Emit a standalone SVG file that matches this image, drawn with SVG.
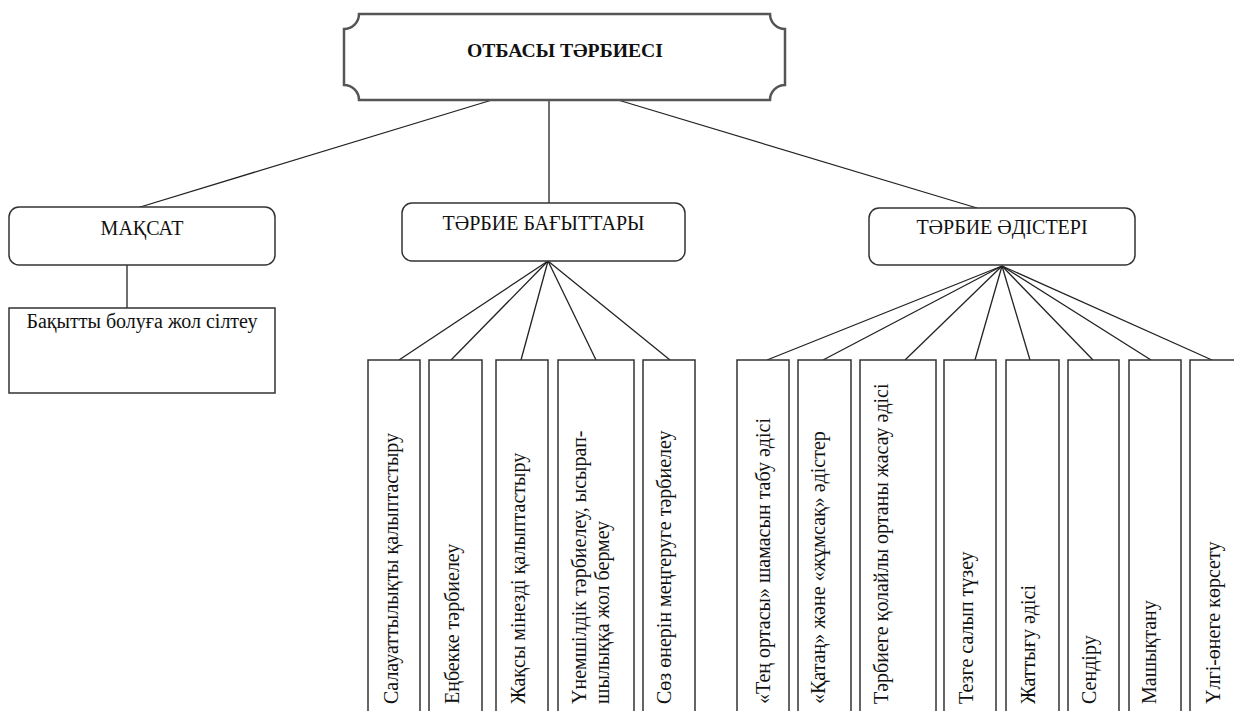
<svg xmlns="http://www.w3.org/2000/svg" width="1234" height="711" viewBox="0 0 1234 711" font-family="'Liberation Serif', serif">
<style>
  text{font-family:'Liberation Serif',serif;font-size:20px;fill:#111}
  .b{font-weight:bold;font-size:19.7px}
  .box{fill:#fff;stroke:#333;stroke-width:1.5}
  .conn{stroke:#222;stroke-width:1.3;fill:none}
</style>
<rect width="1234" height="711" fill="#fff"/>
<g id="connectors">
  <line class="conn" x1="492" y1="100" x2="137" y2="208"/>
  <line class="conn" x1="549" y1="100" x2="549" y2="203"/>
  <line class="conn" x1="618" y1="100" x2="977" y2="208"/>
  <line class="conn" x1="127" y1="265" x2="127" y2="308"/>
  <line class="conn" x1="548" y1="261" x2="399" y2="360"/>
  <line class="conn" x1="548" y1="261" x2="451" y2="360"/>
  <line class="conn" x1="548" y1="261" x2="521" y2="360"/>
  <line class="conn" x1="548" y1="261" x2="596" y2="360"/>
  <line class="conn" x1="548" y1="261" x2="670" y2="360"/>
  <line class="conn" x1="1002" y1="266" x2="767" y2="360"/>
  <line class="conn" x1="1002" y1="266" x2="823" y2="360"/>
  <line class="conn" x1="1002" y1="266" x2="905" y2="360"/>
  <line class="conn" x1="1002" y1="266" x2="975" y2="360"/>
  <line class="conn" x1="1002" y1="266" x2="1030" y2="360"/>
  <line class="conn" x1="1002" y1="266" x2="1093" y2="360"/>
  <line class="conn" x1="1002" y1="266" x2="1151" y2="360"/>
  <line class="conn" x1="1002" y1="266" x2="1212" y2="360"/>
</g>
<g id="root">
  <path d="M359,14 H770 A15,15 0 0 0 785,29 V85 A15,15 0 0 0 770,100 H359 A15,15 0 0 0 344,85 V29 A15,15 0 0 0 359,14 Z" fill="#fff" stroke="#555" stroke-width="2.5"/>
  <text class="b" x="565" y="57" text-anchor="middle">ОТБАСЫ ТӘРБИЕСІ</text>
</g>
<g id="maksat">
  <rect class="box" x="9" y="207" width="266" height="58" rx="10"/>
  <text x="142" y="235" text-anchor="middle">МАҚСАТ</text>
</g>
<g id="maksat-1">
  <rect class="box" x="9" y="308" width="266" height="85"/>
  <text x="142" y="328" text-anchor="middle">Бақытты болуға жол сілтеу</text>
</g>
<g id="bagyttar">
  <rect class="box" x="402" y="203" width="283" height="58" rx="10"/>
  <text x="543.5" y="230" text-anchor="middle">ТӘРБИЕ БАҒЫТТАРЫ</text>
</g>
<g id="b1">
  <rect class="box" x="368" y="360" width="52" height="360"/>
  <text transform="translate(398.2,704) rotate(-90)">Салауаттылықты қалыптастыру</text>
</g>
<g id="b2">
  <rect class="box" x="429" y="360" width="53" height="360"/>
  <text transform="translate(459.2,704) rotate(-90)">Еңбекке тәрбиелеу</text>
</g>
<g id="b3">
  <rect class="box" x="496" y="360" width="52" height="360"/>
  <text transform="translate(525.2,704) rotate(-90)">Жақсы мінезді қалыптастыру</text>
</g>
<g id="b4">
  <rect class="box" x="558" y="360" width="76" height="360"/>
  <text transform="translate(586.2,704) rotate(-90)">Үнемшілдік тәрбиелеу, ысырап-</text>
  <text transform="translate(609.2,704) rotate(-90)">шылыққа жол бермеу</text>
</g>
<g id="b5">
  <rect class="box" x="643" y="360" width="52" height="360"/>
  <text transform="translate(671.2,704) rotate(-90)">Сөз өнерін меңгеруге тәрбиелеу</text>
</g>
<g id="adister">
  <rect class="box" x="869" y="208" width="266" height="57" rx="10"/>
  <text x="1002" y="234" text-anchor="middle">ТӘРБИЕ ӘДІСТЕРІ</text>
</g>
<g id="m1">
  <rect class="box" x="737" y="360" width="52" height="360"/>
  <text transform="translate(770.2,704) rotate(-90)">«Тең ортасы» шамасын табу әдісі</text>
</g>
<g id="m2">
  <rect class="box" x="798" y="360" width="53" height="360"/>
  <text transform="translate(825.2,704) rotate(-90)">«Қатаң» және «жұмсақ» әдістер</text>
</g>
<g id="m3">
  <rect class="box" x="860" y="360" width="76" height="360"/>
  <text transform="translate(888.2,704) rotate(-90)">Тәрбиеге қолайлы ортаны жасау әдісі</text>
</g>
<g id="m4">
  <rect class="box" x="944" y="360" width="52" height="360"/>
  <text transform="translate(973.2,704) rotate(-90)">Тезге салып түзеу</text>
</g>
<g id="m5">
  <rect class="box" x="1006" y="360" width="53" height="360"/>
  <text transform="translate(1035.2,704) rotate(-90)">Жаттығу әдісі</text>
</g>
<g id="m6">
  <rect class="box" x="1068" y="360" width="51" height="360"/>
  <text transform="translate(1096.2,704) rotate(-90)">Сендіру</text>
</g>
<g id="m7">
  <rect class="box" x="1129" y="360" width="52" height="360"/>
  <text transform="translate(1156.2,704) rotate(-90)">Машықтану</text>
</g>
<g id="m8">
  <rect class="box" x="1190" y="360" width="60" height="360"/>
  <text transform="translate(1220.2,704) rotate(-90)">Үлгі-өнеге көрсету</text>
</g>
</svg>
